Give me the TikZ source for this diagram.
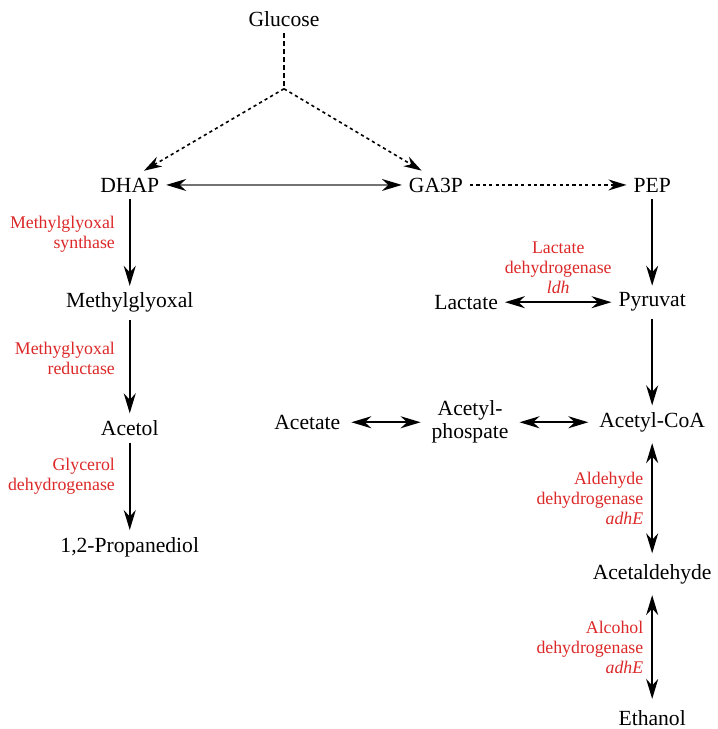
\documentclass[tikz,border=0pt]{standalone}
\usepackage{fontspec}
\setmainfont{Liberation Serif}
\newfontfamily\labelfont{Liberation Serif}
\usetikzlibrary{positioning, arrows.meta}
\definecolor{enzymeRed}{RGB}{220,40,40}
\tikzset{
	metab/.style={font=\labelfont\fontsize{10.8}{11.5}\selectfont, align=center},
	convarr/.style={-{Stealth[length=10pt, width=6pt]}, line width=0.9pt},
	revarr/.style={{Stealth[length=10pt, width=6pt]}-{Stealth[length=10pt, width=6pt]}, line width=0.9pt,
		shorten <=2pt, shorten >=2pt},
	dotarr/.style={-{Stealth[length=9pt, width=5.5pt]}, line width=0.8pt, dash pattern=on 1.6pt off 1.6pt},
	enzlabel/.style={text=enzymeRed, font=\labelfont\fontsize{8.9}{10}\selectfont, inner sep=1pt}
}

\begin{document}
\begin{tikzpicture}[node distance=2cm and 3cm, on grid]
	\useasboundingbox (-2.28,-9.56) rectangle (10.33,3.25);
	% top row
	\node[metab] (dhap) at (0,0) {DHAP};
	\node[metab, right=5.38cm of dhap] (ga3p) {GA3P};
	\node[metab, right=3.80cm of ga3p] (pep) {PEP};
	\node[metab, above right=2.92cm and 2.71cm of dhap] (glucose) {Glucose};
	\coordinate[below=1.23cm of glucose] (split);
	% left branch
	\node[metab, below=2.07cm of dhap] (mgo) {Methylglyoxal};
	\node[metab, below=2.20cm of mgo] (acetol) {Acetol};
	\node[metab, below=2.09cm of acetol] (prop) {1,2-Propanediol};
	% right branch
	\node[metab, below=2.06cm of pep] (pyruvat) {Pyruvat};
	\node[metab, left=3.27cm of pyruvat] (lactate) {Lactate};
	\node[metab, below=2.11cm of pyruvat] (accoa) {Acetyl-CoA};
	\node[metab, left=3.20cm of accoa] (acp) {Acetyl-\\phospate};
	\node[metab, left=2.86cm of acp] (acetate) {Acetate};
	\node[metab, below=2.67cm of accoa] (acald) {Acetaldehyde};
	\node[metab, below=2.52cm of acald] (ethanol) {Ethanol};

	\draw[line width=0.8pt, dash pattern=on 2.5pt off 1.5pt] (glucose) -- (split);
	\draw[dotarr] (split) -- (dhap.45);
	\draw[dotarr] (split) -- (ga3p.135);
	\draw[{Stealth[length=10pt, width=6pt, color=black]}-{Stealth[length=10pt, width=6pt, color=black]},
		line width=0.6pt, draw=black!55] (dhap) -- (ga3p);
	\draw[dotarr] (ga3p) -- (pep);

	\draw[convarr] (dhap) -- node[enzlabel, left=6pt, pos=0.41, align=right] {Methylglyoxal\\synthase} (mgo);
	\draw[convarr] (mgo) -- node[enzlabel, left=6pt, pos=0.41, align=right] {Methyglyoxal\\reductase} (acetol);
	\draw[convarr] (acetol) -- node[enzlabel, left=6pt, pos=0.38, align=right] {Glycerol\\dehydrogenase} (prop);

	\draw[convarr] (pep) -- (pyruvat);
	\draw[revarr, shorten <=0pt, shorten >=0pt] (pyruvat) -- node[enzlabel, above=3pt, align=center]
		{Lactate\\dehydrogenase\\\textit{ldh}} (lactate);
	\draw[convarr] (pyruvat) -- (accoa);
	\draw[revarr] (acetate) -- (acp);
	\draw[revarr] (acp) -- (accoa);
	\draw[revarr] (accoa) -- node[enzlabel, left=3pt, align=right]
		{Aldehyde\\dehydrogenase\\\textit{adhE}} (acald);
	\draw[revarr] (acald) -- node[enzlabel, left=3pt, align=right]
		{Alcohol\\dehydrogenase\\\textit{adhE}} (ethanol);
\end{tikzpicture}
\end{document}
